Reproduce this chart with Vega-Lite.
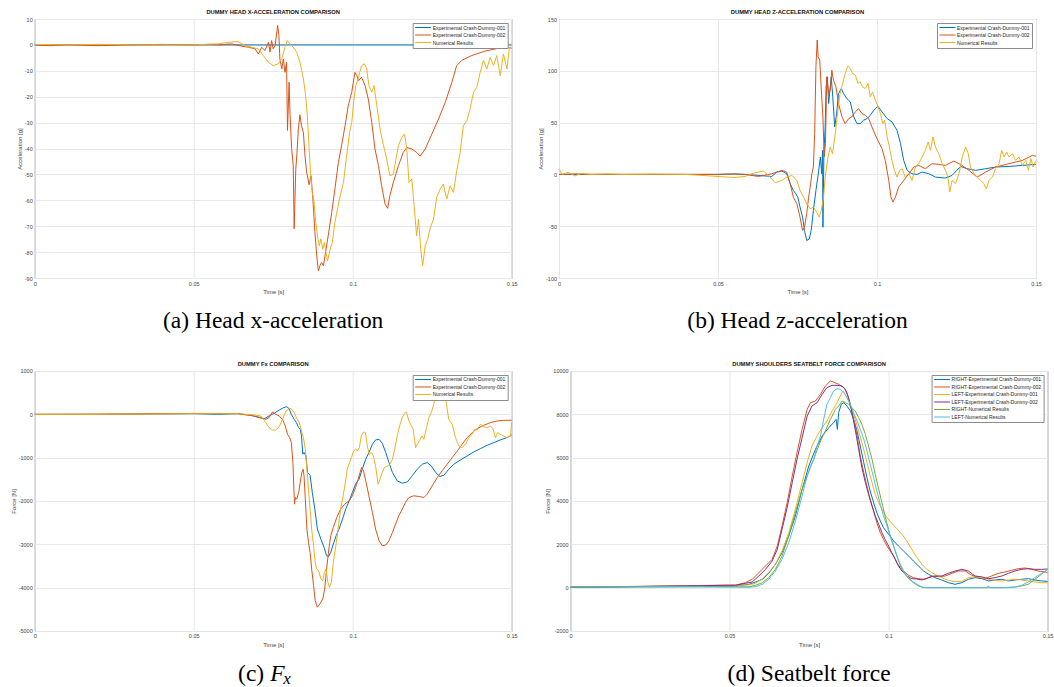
{
  "$schema": "https://vega.github.io/schema/vega-lite/v6.json",
  "padding": {"left": 8.7, "top": 8, "right": 0, "bottom": 0},
  "background": "white",
  "config": {
    "font": "Liberation Sans",
    "view": {"stroke": "#8c8c8c", "strokeWidth": 1},
    "line": {"strokeWidth": 1, "clip": true},
    "title": {"fontSize": 5.8, "fontWeight": "bold", "color": "#111111", "offset": 2},
    "axis": {
      "labelFontSize": 5.5, "labelColor": "#444444", "titleFontSize": 6, "titleFontWeight": "normal",
      "titleColor": "#444444", "ticks": false, "domain": false, "gridColor": "#e8e8e8", "gridWidth": 1,
      "labelPadding": 3, "labelFlush": false, "labelOverlap": false, "labelExpr": "'' + datum.value"
    },
    "axisX": {"titlePadding": 2},
    "axisY": {"titlePadding": 2, "labelPadding": 2.5},
    "legend": {
      "labelFontSize": 5, "labelColor": "#262626", "labelLimit": 300,
      "symbolType": "M-1,0H7", "symbolSize": 16, "symbolStrokeWidth": 1.5, "labelOffset": 13,
      "padding": 2, "rowPadding": 1.5, "strokeColor": "#8c8c8c", "fillColor": "#ffffff"
    }
  },
  "datasets": {
    "a1": [{"t":0,"v":0},{"t":0.03,"v":0},{"t":0.06,"v":0},{"t":0.09,"v":0},{"t":0.12,"v":0},{"t":0.15,"v":0}],
    "a2": [{"t":0,"v":0},{"t":0.005,"v":-0.3},{"t":0.01,"v":0},{"t":0.02,"v":-0.3},{"t":0.03,"v":0},{"t":0.04,"v":0.2},{"t":0.05,"v":0},{"t":0.055,"v":0.2},
      {"t":0.0577,"v":0},{"t":0.0619,"v":0.4},{"t":0.0651,"v":-0.5},{"t":0.0672,"v":-0.9},{"t":0.0693,"v":-1.5},{"t":0.0703,"v":-3.5},{"t":0.0714,"v":-0.9},{"t":0.0724,"v":-2.2},{"t":0.0735,"v":1},{"t":0.074,"v":-2.8},{"t":0.0745,"v":1.7},{"t":0.075,"v":-1.5},{"t":0.0756,"v":-0.3},{"t":0.0764,"v":7.5},{"t":0.0768,"v":3.6},{"t":0.0771,"v":-5.4},{"t":0.0777,"v":-9.3},{"t":0.0782,"v":-5.4},{"t":0.0787,"v":-10.6},{"t":0.0792,"v":-6.7},{"t":0.0795,"v":-33},{"t":0.08,"v":-14.4},{"t":0.0803,"v":-27},{"t":0.0808,"v":-40},{"t":0.0813,"v":-46.6},{"t":0.0816,"v":-71},{"t":0.0821,"v":-48},{"t":0.0825,"v":-41.5},{"t":0.0829,"v":-32.5},{"t":0.0834,"v":-27},{"t":0.0839,"v":-31.2},{"t":0.0845,"v":-34},{"t":0.085,"v":-42.8},{"t":0.0855,"v":-49},{"t":0.0863,"v":-54},{"t":0.0869,"v":-50.5},{"t":0.0874,"v":-58},{"t":0.0881,"v":-72},{"t":0.0887,"v":-81.4},{"t":0.0892,"v":-87.2},{"t":0.0897,"v":-85.3},{"t":0.0902,"v":-84},{"t":0.0908,"v":-85.3},{"t":0.0913,"v":-81.4},{"t":0.0923,"v":-73.7},{"t":0.0934,"v":-64.7},{"t":0.0944,"v":-55.7},{"t":0.0955,"v":-45.4},{"t":0.0965,"v":-38.9},{"t":0.0976,"v":-31.2},{"t":0.0986,"v":-23.5},{"t":0.0997,"v":-18.3},{"t":0.1002,"v":-14.4},{"t":0.1007,"v":-10.6},{"t":0.1013,"v":-11.9},{"t":0.1018,"v":-13.8},{"t":0.1028,"v":-12.5},{"t":0.1039,"v":-15.7},{"t":0.1049,"v":-20.9},{"t":0.106,"v":-29.9},{"t":0.107,"v":-40.2},{"t":0.1081,"v":-46.6},{"t":0.1091,"v":-54.4},{"t":0.1102,"v":-61.5},{"t":0.111,"v":-63.1},{"t":0.1117,"v":-58.2},{"t":0.1128,"v":-53},{"t":0.1144,"v":-46.6},{"t":0.1159,"v":-41.5},{"t":0.117,"v":-39.6},{"t":0.1186,"v":-40.2},{"t":0.1201,"v":-41.5},{"t":0.1212,"v":-43},{"t":0.1228,"v":-40.2},{"t":0.1249,"v":-34.4},{"t":0.127,"v":-28.6},{"t":0.1291,"v":-22.2},{"t":0.1312,"v":-14.4},{"t":0.1327,"v":-8},{"t":0.1343,"v":-6},{"t":0.1374,"v":-4.1},{"t":0.1416,"v":-2.4},{"t":0.1458,"v":-1.3},{"t":0.149,"v":-0.9},{"t":0.15,"v":-1.3}],
    "a3": [{"t":0,"v":0.2},{"t":0.01,"v":0},{"t":0.02,"v":0.2},{"t":0.03,"v":0},{"t":0.04,"v":0},{"t":0.05,"v":0},{"t":0.055,"v":0.3},
      {"t":0.0577,"v":0.4},{"t":0.0609,"v":1},{"t":0.064,"v":1.3},{"t":0.0661,"v":-0.3},{"t":0.0682,"v":-0.9},{"t":0.0703,"v":-1.5},{"t":0.0719,"v":-4.1},{"t":0.0735,"v":-6.7},{"t":0.075,"v":-8},{"t":0.0766,"v":-7.3},{"t":0.0777,"v":-5.4},{"t":0.0787,"v":-0.9},{"t":0.0794,"v":1.7},{"t":0.0803,"v":0.4},{"t":0.0813,"v":-0.9},{"t":0.0824,"v":-2.8},{"t":0.0834,"v":-6.7},{"t":0.0845,"v":-13.1},{"t":0.0852,"v":-19.6},{"t":0.0858,"v":-28.6},{"t":0.0863,"v":-40.2},{"t":0.0868,"v":-50.5},{"t":0.0873,"v":-57},{"t":0.0878,"v":-60.2},{"t":0.0884,"v":-68.6},{"t":0.089,"v":-74.4},{"t":0.0895,"v":-77.6},{"t":0.09,"v":-74.9},{"t":0.0906,"v":-78.9},{"t":0.0911,"v":-76.3},{"t":0.0916,"v":-80.2},{"t":0.0921,"v":-83.4},{"t":0.0929,"v":-78.9},{"t":0.0936,"v":-76.3},{"t":0.0944,"v":-68.6},{"t":0.0953,"v":-62.8},{"t":0.0961,"v":-58.2},{"t":0.0971,"v":-53.1},{"t":0.0981,"v":-42.8},{"t":0.099,"v":-33.8},{"t":0.0997,"v":-29.9},{"t":0.1004,"v":-20.9},{"t":0.101,"v":-15.7},{"t":0.1018,"v":-12.5},{"t":0.1028,"v":-8},{"t":0.1037,"v":-7.3},{"t":0.1044,"v":-9.3},{"t":0.1051,"v":-15.7},{"t":0.106,"v":-18.3},{"t":0.1067,"v":-15.7},{"t":0.1076,"v":-23.5},{"t":0.1086,"v":-32.5},{"t":0.1097,"v":-38.9},{"t":0.1107,"v":-44.1},{"t":0.1117,"v":-50.5},{"t":0.1128,"v":-49.9},{"t":0.1136,"v":-44.1},{"t":0.1144,"v":-38.9},{"t":0.1154,"v":-35.7},{"t":0.1163,"v":-34.4},{"t":0.117,"v":-40.2},{"t":0.1177,"v":-53.1},{"t":0.1186,"v":-51.8},{"t":0.1194,"v":-63.4},{"t":0.1201,"v":-73.7},{"t":0.1207,"v":-67.3},{"t":0.1214,"v":-78.9},{"t":0.122,"v":-85.3},{"t":0.1228,"v":-77.6},{"t":0.1236,"v":-75},{"t":0.1243,"v":-71.1},{"t":0.1254,"v":-67.3},{"t":0.1264,"v":-58.9},{"t":0.1275,"v":-55.7},{"t":0.1285,"v":-53.7},{"t":0.1296,"v":-59.5},{"t":0.1306,"v":-54.4},{"t":0.1317,"v":-57},{"t":0.1327,"v":-48.6},{"t":0.1338,"v":-41.5},{"t":0.1348,"v":-31.2},{"t":0.1359,"v":-29.3},{"t":0.1369,"v":-24.7},{"t":0.138,"v":-18.3},{"t":0.139,"v":-16.4},{"t":0.1401,"v":-10.6},{"t":0.1411,"v":-6},{"t":0.1422,"v":-9.3},{"t":0.1432,"v":-4.8},{"t":0.1443,"v":-8},{"t":0.1453,"v":-4.1},{"t":0.1464,"v":-11.9},{"t":0.1474,"v":-3.5},{"t":0.1485,"v":-9.3},{"t":0.1493,"v":-0.9},{"t":0.15,"v":-1.5}],
    "b1": [{"t":0,"v":0},{"t":0.01,"v":0},{"t":0.02,"v":0},{"t":0.03,"v":0},{"t":0.04,"v":0},{"t":0.05,"v":0},{"t":0.055,"v":0.5},
      {"t":0.0585,"v":0},{"t":0.0627,"v":-1},{"t":0.0669,"v":-2},{"t":0.0685,"v":2.3},{"t":0.0701,"v":3.2},{"t":0.0716,"v":0.6},{"t":0.0727,"v":-9},{"t":0.0737,"v":-15.5},{"t":0.0745,"v":-18.7},{"t":0.0751,"v":-22},{"t":0.0758,"v":-31.6},{"t":0.0766,"v":-41.3},{"t":0.0772,"v":-54.2},{"t":0.0779,"v":-63.9},{"t":0.0787,"v":-62.3},{"t":0.0793,"v":-54.2},{"t":0.08,"v":-34.8},{"t":0.0808,"v":-15.5},{"t":0.0814,"v":-2.6},{"t":0.0818,"v":7},{"t":0.0822,"v":16.8},{"t":0.0826,"v":0.6},{"t":0.0829,"v":23.2},{"t":0.083,"v":-51},{"t":0.0833,"v":20},{"t":0.0837,"v":45.8},{"t":0.084,"v":84.5},{"t":0.0844,"v":94.2},{"t":0.0848,"v":68.4},{"t":0.0852,"v":81.3},{"t":0.0856,"v":94.2},{"t":0.0861,"v":74.8},{"t":0.0867,"v":45.8},{"t":0.0873,"v":58.7},{"t":0.0879,"v":78},{"t":0.0888,"v":82.9},{"t":0.0895,"v":78},{"t":0.0905,"v":73.2},{"t":0.0916,"v":70},{"t":0.0927,"v":55.5},{"t":0.0937,"v":49},{"t":0.0947,"v":49},{"t":0.0958,"v":52.3},{"t":0.0969,"v":53.9},{"t":0.0979,"v":57.1},{"t":0.099,"v":61.9},{"t":0.1003,"v":65.8},{"t":0.1016,"v":60.3},{"t":0.1032,"v":53.9},{"t":0.1047,"v":50.6},{"t":0.1063,"v":42.6},{"t":0.1074,"v":29.7},{"t":0.1084,"v":13.5},{"t":0.1095,"v":3.9},{"t":0.111,"v":0.6},{"t":0.1126,"v":0},{"t":0.1142,"v":2.3},{"t":0.1163,"v":0.6},{"t":0.1184,"v":-2.6},{"t":0.1215,"v":-3.5},{"t":0.1236,"v":-1},{"t":0.1263,"v":7.7},{"t":0.1284,"v":5.5},{"t":0.131,"v":3.9},{"t":0.1342,"v":5.5},{"t":0.1373,"v":7.1},{"t":0.1415,"v":7.7},{"t":0.1457,"v":8.7},{"t":0.15,"v":9.7}],
    "b2": [{"t":0,"v":0},{"t":0.005,"v":0.5},{"t":0.01,"v":0},{"t":0.02,"v":0},{"t":0.03,"v":0},{"t":0.04,"v":0},{"t":0.05,"v":0},{"t":0.055,"v":0.3},
      {"t":0.0585,"v":0},{"t":0.0627,"v":-2},{"t":0.0669,"v":0.6},{"t":0.0701,"v":3.9},{"t":0.0716,"v":2.3},{"t":0.0727,"v":-9},{"t":0.0737,"v":-22},{"t":0.0748,"v":-28.4},{"t":0.0758,"v":-41.3},{"t":0.0766,"v":-54.2},{"t":0.0772,"v":-51},{"t":0.0779,"v":-38},{"t":0.0785,"v":-22},{"t":0.079,"v":-12.3},{"t":0.0795,"v":0.6},{"t":0.08,"v":7},{"t":0.0804,"v":39.4},{"t":0.0808,"v":103.9},{"t":0.0812,"v":129.7},{"t":0.0815,"v":113.5},{"t":0.082,"v":110.3},{"t":0.0825,"v":81.3},{"t":0.083,"v":55.5},{"t":0.0834,"v":16.8},{"t":0.0838,"v":29.7},{"t":0.0842,"v":94.2},{"t":0.0848,"v":78},{"t":0.0853,"v":81.3},{"t":0.0858,"v":100.6},{"t":0.0863,"v":91},{"t":0.0871,"v":84.5},{"t":0.0879,"v":68.4},{"t":0.089,"v":55.5},{"t":0.09,"v":49},{"t":0.0911,"v":53.9},{"t":0.0921,"v":55.5},{"t":0.0932,"v":60.3},{"t":0.0942,"v":63.5},{"t":0.0953,"v":58.7},{"t":0.0963,"v":57.1},{"t":0.0974,"v":53.9},{"t":0.0984,"v":45.8},{"t":0.1,"v":34.5},{"t":0.1016,"v":24.8},{"t":0.1026,"v":13.5},{"t":0.1037,"v":-5.8},{"t":0.1044,"v":-22},{"t":0.105,"v":-26.8},{"t":0.1058,"v":-22},{"t":0.1068,"v":-12.3},{"t":0.1084,"v":-5.8},{"t":0.11,"v":0.6},{"t":0.1116,"v":7.1},{"t":0.1131,"v":8.7},{"t":0.1152,"v":5.5},{"t":0.1173,"v":10.3},{"t":0.1194,"v":9.7},{"t":0.1215,"v":8.7},{"t":0.1242,"v":12.9},{"t":0.1268,"v":8.7},{"t":0.1289,"v":3.9},{"t":0.1315,"v":-2.6},{"t":0.1342,"v":2.3},{"t":0.1373,"v":7.1},{"t":0.1415,"v":10.3},{"t":0.1457,"v":13.5},{"t":0.1489,"v":18.4},{"t":0.15,"v":17.5}],
    "b3": [{"t":0,"v":5},{"t":0.001,"v":0},{"t":0.003,"v":2},{"t":0.005,"v":-1.5},{"t":0.007,"v":1},{"t":0.01,"v":0},{"t":0.015,"v":0.5},{"t":0.02,"v":0},{"t":0.03,"v":0.3},{"t":0.04,"v":0},{"t":0.045,"v":-1},{"t":0.05,"v":-2},{"t":0.055,"v":-3},
      {"t":0.0585,"v":-2},{"t":0.0606,"v":0.6},{"t":0.0627,"v":2.3},{"t":0.0643,"v":3.2},{"t":0.0659,"v":-1},{"t":0.068,"v":-8},{"t":0.0701,"v":-5.8},{"t":0.0716,"v":-2.6},{"t":0.0732,"v":-1},{"t":0.0748,"v":-5.8},{"t":0.0758,"v":-15.5},{"t":0.0769,"v":-22},{"t":0.0779,"v":-28.4},{"t":0.079,"v":-33.2},{"t":0.08,"v":-31.6},{"t":0.0811,"v":-36.5},{"t":0.0818,"v":-41.3},{"t":0.0825,"v":-34.8},{"t":0.0832,"v":-22},{"t":0.0837,"v":-2.6},{"t":0.0846,"v":16.8},{"t":0.0853,"v":26.5},{"t":0.086,"v":20},{"t":0.0869,"v":39.4},{"t":0.0877,"v":62},{"t":0.0884,"v":78},{"t":0.0892,"v":87.7},{"t":0.09,"v":97.4},{"t":0.0908,"v":104.5},{"t":0.0916,"v":102.3},{"t":0.0923,"v":97.4},{"t":0.0932,"v":95.8},{"t":0.094,"v":87.7},{"t":0.0947,"v":89.4},{"t":0.0955,"v":84.5},{"t":0.0963,"v":82.9},{"t":0.0972,"v":87.7},{"t":0.0979,"v":74.8},{"t":0.0986,"v":79.7},{"t":0.0995,"v":71.6},{"t":0.1003,"v":65.2},{"t":0.1011,"v":58.7},{"t":0.1018,"v":49},{"t":0.1024,"v":52.3},{"t":0.1032,"v":36.1},{"t":0.1039,"v":26.5},{"t":0.1047,"v":13.5},{"t":0.1055,"v":3.9},{"t":0.1063,"v":-2.6},{"t":0.1071,"v":3.9},{"t":0.1079,"v":5.5},{"t":0.1089,"v":-2.6},{"t":0.11,"v":1},{"t":0.111,"v":-5.8},{"t":0.1121,"v":7.1},{"t":0.1131,"v":10.3},{"t":0.1142,"v":16.8},{"t":0.1152,"v":23.2},{"t":0.1161,"v":31.3},{"t":0.1168,"v":23.2},{"t":0.1176,"v":36.1},{"t":0.1184,"v":26.5},{"t":0.1194,"v":20},{"t":0.1205,"v":10.3},{"t":0.1215,"v":3.9},{"t":0.1223,"v":-2.6},{"t":0.1229,"v":-17.1},{"t":0.1236,"v":-5.8},{"t":0.1247,"v":-9},{"t":0.1258,"v":1},{"t":0.1268,"v":16.8},{"t":0.1279,"v":26.5},{"t":0.1287,"v":20},{"t":0.1294,"v":7.1},{"t":0.1305,"v":1},{"t":0.1315,"v":-2.6},{"t":0.1326,"v":-5.8},{"t":0.1336,"v":-9},{"t":0.1344,"v":-13.9},{"t":0.1352,"v":-5.8},{"t":0.1363,"v":-2.6},{"t":0.1373,"v":5.5},{"t":0.1384,"v":10.3},{"t":0.1392,"v":23.2},{"t":0.14,"v":16.8},{"t":0.1408,"v":21.6},{"t":0.1415,"v":16.8},{"t":0.1426,"v":20},{"t":0.1436,"v":13.5},{"t":0.1447,"v":16.8},{"t":0.1457,"v":8.7},{"t":0.1468,"v":13.5},{"t":0.1476,"v":3.9},{"t":0.1484,"v":15.2},{"t":0.1491,"v":7.1},{"t":0.15,"v":13.5}],
    "c1": [{"t":0,"v":0},{"t":0.02,"v":0},{"t":0.04,"v":10},{"t":0.05,"v":15},
      {"t":0.0575,"v":0},{"t":0.0638,"v":15},{"t":0.068,"v":-20},{"t":0.0706,"v":-77},{"t":0.0722,"v":-100},{"t":0.0737,"v":-38},{"t":0.0753,"v":23},{"t":0.0769,"v":100},{"t":0.0782,"v":153},{"t":0.0793,"v":176},{"t":0.08,"v":130},{"t":0.0807,"v":0},{"t":0.0816,"v":-115},{"t":0.0823,"v":-192},{"t":0.083,"v":-307},{"t":0.0835,"v":-345},{"t":0.0839,"v":-499},{"t":0.0843,"v":-921},{"t":0.0847,"v":-880},{"t":0.0853,"v":-959},{"t":0.0858,"v":-1343},{"t":0.0866,"v":-1405},{"t":0.0873,"v":-1804},{"t":0.0881,"v":-2187},{"t":0.0889,"v":-2648},{"t":0.09,"v":-2878},{"t":0.091,"v":-3070},{"t":0.0918,"v":-3262},{"t":0.0924,"v":-3285},{"t":0.0931,"v":-3185},{"t":0.0939,"v":-2993},{"t":0.0948,"v":-2801},{"t":0.0957,"v":-2648},{"t":0.0968,"v":-2418},{"t":0.0978,"v":-2187},{"t":0.0989,"v":-1996},{"t":0.0999,"v":-1804},{"t":0.1009,"v":-1612},{"t":0.102,"v":-1497},{"t":0.103,"v":-1266},{"t":0.1041,"v":-1036},{"t":0.1051,"v":-883},{"t":0.1062,"v":-691},{"t":0.1072,"v":-591},{"t":0.1083,"v":-576},{"t":0.1093,"v":-668},{"t":0.1104,"v":-883},{"t":0.1114,"v":-1113},{"t":0.1125,"v":-1343},{"t":0.114,"v":-1535},{"t":0.1156,"v":-1589},{"t":0.1172,"v":-1558},{"t":0.1187,"v":-1420},{"t":0.1203,"v":-1266},{"t":0.1219,"v":-1151},{"t":0.1234,"v":-1113},{"t":0.1247,"v":-1190},{"t":0.1261,"v":-1343},{"t":0.1274,"v":-1435},{"t":0.1287,"v":-1405},{"t":0.1302,"v":-1266},{"t":0.1318,"v":-1151},{"t":0.1339,"v":-1051},{"t":0.136,"v":-959},{"t":0.1381,"v":-867},{"t":0.1402,"v":-791},{"t":0.1423,"v":-714},{"t":0.1444,"v":-652},{"t":0.1464,"v":-591},{"t":0.1485,"v":-537},{"t":0.15,"v":-480}],
    "c2": [{"t":0,"v":0},{"t":0.02,"v":5},{"t":0.04,"v":15},{"t":0.05,"v":20},
      {"t":0.0575,"v":20},{"t":0.0638,"v":15},{"t":0.069,"v":-38},{"t":0.0711,"v":-77},{"t":0.0727,"v":-115},{"t":0.0737,"v":-77},{"t":0.0748,"v":54},{"t":0.0758,"v":0},{"t":0.0769,"v":-38},{"t":0.0779,"v":-115},{"t":0.0788,"v":-269},{"t":0.0795,"v":-461},{"t":0.0802,"v":-537},{"t":0.0807,"v":-652},{"t":0.0812,"v":-1113},{"t":0.0815,"v":-1727},{"t":0.0817,"v":-2072},{"t":0.082,"v":-1919},{"t":0.0824,"v":-1957},{"t":0.083,"v":-1804},{"t":0.0835,"v":-1573},{"t":0.084,"v":-1343},{"t":0.0844,"v":-1266},{"t":0.0847,"v":-1420},{"t":0.0851,"v":-1957},{"t":0.0856,"v":-2648},{"t":0.0861,"v":-2955},{"t":0.0866,"v":-3185},{"t":0.0871,"v":-3569},{"t":0.0877,"v":-3953},{"t":0.0882,"v":-4298},{"t":0.0889,"v":-4452},{"t":0.0897,"v":-4375},{"t":0.0906,"v":-4260},{"t":0.0912,"v":-4030},{"t":0.0918,"v":-3569},{"t":0.0925,"v":-3108},{"t":0.0931,"v":-2801},{"t":0.0939,"v":-2610},{"t":0.095,"v":-2379},{"t":0.0962,"v":-2187},{"t":0.0975,"v":-2072},{"t":0.0989,"v":-1996},{"t":0.0999,"v":-1880},{"t":0.1009,"v":-1689},{"t":0.1017,"v":-1497},{"t":0.1023,"v":-1343},{"t":0.1028,"v":-1228},{"t":0.1034,"v":-1305},{"t":0.1041,"v":-1535},{"t":0.1051,"v":-1880},{"t":0.1062,"v":-2264},{"t":0.1072,"v":-2648},{"t":0.1083,"v":-2917},{"t":0.1093,"v":-3031},{"t":0.1104,"v":-3016},{"t":0.1114,"v":-2917},{"t":0.1125,"v":-2725},{"t":0.1135,"v":-2533},{"t":0.1145,"v":-2341},{"t":0.1156,"v":-2187},{"t":0.1166,"v":-2033},{"t":0.1177,"v":-1919},{"t":0.1192,"v":-1880},{"t":0.1208,"v":-1896},{"t":0.1224,"v":-1919},{"t":0.1234,"v":-1842},{"t":0.125,"v":-1650},{"t":0.1266,"v":-1459},{"t":0.1281,"v":-1305},{"t":0.1297,"v":-1151},{"t":0.1313,"v":-998},{"t":0.1329,"v":-844},{"t":0.1344,"v":-691},{"t":0.136,"v":-537},{"t":0.1376,"v":-422},{"t":0.1391,"v":-330},{"t":0.1412,"v":-253},{"t":0.1433,"v":-192},{"t":0.1454,"v":-154},{"t":0.1475,"v":-138},{"t":0.15,"v":-138}],
    "c3": [{"t":0,"v":0},{"t":0.02,"v":0},{"t":0.04,"v":10},{"t":0.05,"v":15},
      {"t":0.0575,"v":15},{"t":0.0638,"v":15},{"t":0.069,"v":-15},{"t":0.0711,"v":-38},{"t":0.0727,"v":-192},{"t":0.0737,"v":-307},{"t":0.0748,"v":-361},{"t":0.0758,"v":-361},{"t":0.0769,"v":-284},{"t":0.0779,"v":-115},{"t":0.079,"v":77},{"t":0.08,"v":130},{"t":0.0807,"v":130},{"t":0.0816,"v":38},{"t":0.0823,"v":-77},{"t":0.0832,"v":-192},{"t":0.0839,"v":-384},{"t":0.0845,"v":-537},{"t":0.0851,"v":-806},{"t":0.0856,"v":-1266},{"t":0.0861,"v":-1727},{"t":0.0866,"v":-2187},{"t":0.0871,"v":-2648},{"t":0.0877,"v":-3031},{"t":0.0882,"v":-3415},{"t":0.0887,"v":-3569},{"t":0.0893,"v":-3607},{"t":0.09,"v":-3800},{"t":0.0906,"v":-3838},{"t":0.0911,"v":-3646},{"t":0.0916,"v":-3569},{"t":0.0922,"v":-3876},{"t":0.0927,"v":-3991},{"t":0.0933,"v":-3876},{"t":0.0939,"v":-3415},{"t":0.0947,"v":-3031},{"t":0.0954,"v":-2648},{"t":0.0962,"v":-2187},{"t":0.097,"v":-1880},{"t":0.0977,"v":-1573},{"t":0.0983,"v":-1266},{"t":0.099,"v":-1113},{"t":0.0996,"v":-998},{"t":0.1002,"v":-867},{"t":0.1008,"v":-806},{"t":0.1015,"v":-844},{"t":0.1021,"v":-768},{"t":0.1027,"v":-499},{"t":0.1034,"v":-407},{"t":0.104,"v":-422},{"t":0.1046,"v":-729},{"t":0.1052,"v":-921},{"t":0.1059,"v":-883},{"t":0.1065,"v":-959},{"t":0.1072,"v":-1190},{"t":0.108,"v":-1612},{"t":0.1086,"v":-1497},{"t":0.1093,"v":-1343},{"t":0.11,"v":-1228},{"t":0.1109,"v":-1190},{"t":0.1117,"v":-1151},{"t":0.1125,"v":-1036},{"t":0.1132,"v":-806},{"t":0.114,"v":-499},{"t":0.1149,"v":-230},{"t":0.1156,"v":-77},{"t":0.1163,"v":23},{"t":0.1169,"v":54},{"t":0.1177,"v":-154},{"t":0.1184,"v":-253},{"t":0.119,"v":-345},{"t":0.1198,"v":-768},{"t":0.1203,"v":-691},{"t":0.121,"v":-614},{"t":0.1218,"v":-499},{"t":0.1224,"v":-576},{"t":0.1232,"v":-307},{"t":0.124,"v":-77},{"t":0.1247,"v":38},{"t":0.1255,"v":230},{"t":0.1264,"v":576},{"t":0.1271,"v":637},{"t":0.1278,"v":499},{"t":0.1287,"v":560},{"t":0.1295,"v":230},{"t":0.1302,"v":-115},{"t":0.1313,"v":-230},{"t":0.1323,"v":-537},{"t":0.1334,"v":-729},{"t":0.1344,"v":-768},{"t":0.1355,"v":-691},{"t":0.1365,"v":-537},{"t":0.1376,"v":-461},{"t":0.1383,"v":-345},{"t":0.1391,"v":-361},{"t":0.1402,"v":-230},{"t":0.1412,"v":-284},{"t":0.1423,"v":-307},{"t":0.1433,"v":-269},{"t":0.1441,"v":-330},{"t":0.1449,"v":-537},{"t":0.1456,"v":-422},{"t":0.1464,"v":-461},{"t":0.1475,"v":-499},{"t":0.1485,"v":-537},{"t":0.1496,"v":-499},{"t":0.15,"v":-180}],
    "d1": [{"t":0,"v":30},{"t":0.02,"v":40},{"t":0.04,"v":50},{"t":0.05,"v":60},
      {"t":0.0519,"v":77},{"t":0.0561,"v":154},{"t":0.0582,"v":262},{"t":0.0603,"v":385},{"t":0.0623,"v":662},{"t":0.0644,"v":1077},{"t":0.0665,"v":1615},{"t":0.0686,"v":2385},{"t":0.0707,"v":3308},{"t":0.0728,"v":4538},{"t":0.0749,"v":5615},{"t":0.077,"v":6385},{"t":0.0791,"v":7000},{"t":0.0812,"v":7385},{"t":0.0827,"v":7615},{"t":0.0835,"v":7769},{"t":0.0839,"v":7308},{"t":0.0843,"v":8077},{"t":0.0851,"v":8462},{"t":0.0859,"v":8538},{"t":0.0869,"v":8385},{"t":0.088,"v":8154},{"t":0.089,"v":7769},{"t":0.0901,"v":7231},{"t":0.0911,"v":6538},{"t":0.0922,"v":5769},{"t":0.0932,"v":5077},{"t":0.0942,"v":4462},{"t":0.0953,"v":3923},{"t":0.0963,"v":3462},{"t":0.0974,"v":3077},{"t":0.0984,"v":2769},{"t":0.1,"v":2462},{"t":0.1016,"v":2154},{"t":0.1031,"v":1923},{"t":0.1047,"v":1692},{"t":0.1063,"v":1462},{"t":0.1078,"v":1231},{"t":0.1094,"v":1000},{"t":0.111,"v":769},{"t":0.1126,"v":615},{"t":0.1146,"v":462},{"t":0.1167,"v":354},{"t":0.1188,"v":231},{"t":0.1209,"v":154},{"t":0.123,"v":231},{"t":0.1251,"v":385},{"t":0.1272,"v":462},{"t":0.1293,"v":415},{"t":0.1314,"v":308},{"t":0.1335,"v":354},{"t":0.1356,"v":385},{"t":0.1377,"v":308},{"t":0.1397,"v":354},{"t":0.1418,"v":385},{"t":0.1439,"v":415},{"t":0.146,"v":354},{"t":0.1481,"v":308},{"t":0.15,"v":292}],
    "d2": [{"t":0,"v":20},{"t":0.02,"v":60},{"t":0.04,"v":100},{"t":0.05,"v":120},
      {"t":0.0519,"v":120},{"t":0.055,"v":231},{"t":0.0571,"v":385},{"t":0.0592,"v":692},{"t":0.0613,"v":1000},{"t":0.0634,"v":1308},{"t":0.065,"v":1923},{"t":0.0665,"v":2846},{"t":0.0681,"v":3923},{"t":0.0697,"v":5154},{"t":0.0712,"v":6231},{"t":0.0728,"v":7308},{"t":0.0744,"v":8231},{"t":0.0754,"v":8538},{"t":0.077,"v":8615},{"t":0.0786,"v":8923},{"t":0.0801,"v":9308},{"t":0.0817,"v":9538},{"t":0.0827,"v":9490},{"t":0.0843,"v":9385},{"t":0.0859,"v":9231},{"t":0.0869,"v":9000},{"t":0.088,"v":8462},{"t":0.089,"v":7769},{"t":0.0901,"v":7000},{"t":0.0911,"v":6077},{"t":0.0922,"v":5308},{"t":0.0932,"v":4692},{"t":0.0942,"v":4077},{"t":0.0953,"v":3538},{"t":0.0963,"v":3000},{"t":0.0974,"v":2538},{"t":0.0984,"v":2231},{"t":0.0995,"v":1923},{"t":0.1005,"v":1692},{"t":0.1016,"v":1462},{"t":0.1026,"v":1154},{"t":0.1037,"v":923},{"t":0.1047,"v":769},{"t":0.1063,"v":569},{"t":0.1078,"v":462},{"t":0.1094,"v":415},{"t":0.1115,"v":385},{"t":0.1136,"v":538},{"t":0.1157,"v":508},{"t":0.1178,"v":538},{"t":0.1199,"v":662},{"t":0.122,"v":769},{"t":0.1241,"v":769},{"t":0.1262,"v":569},{"t":0.1282,"v":462},{"t":0.1303,"v":415},{"t":0.1324,"v":538},{"t":0.1345,"v":662},{"t":0.1366,"v":723},{"t":0.1387,"v":800},{"t":0.1408,"v":877},{"t":0.1429,"v":908},{"t":0.145,"v":846},{"t":0.1471,"v":769},{"t":0.1492,"v":723},{"t":0.15,"v":700}],
    "d3": [{"t":0,"v":20},{"t":0.02,"v":50},{"t":0.04,"v":80},{"t":0.05,"v":100},
      {"t":0.0519,"v":100},{"t":0.0561,"v":130},{"t":0.0582,"v":200},{"t":0.0603,"v":415},{"t":0.0623,"v":692},{"t":0.0644,"v":1077},{"t":0.0665,"v":1692},{"t":0.0686,"v":2538},{"t":0.0707,"v":3615},{"t":0.0728,"v":4846},{"t":0.0744,"v":5769},{"t":0.0759,"v":6538},{"t":0.0775,"v":7000},{"t":0.0791,"v":7385},{"t":0.0806,"v":7692},{"t":0.0822,"v":8154},{"t":0.0838,"v":8538},{"t":0.0848,"v":8846},{"t":0.0856,"v":9077},{"t":0.0864,"v":8923},{"t":0.0874,"v":8615},{"t":0.0885,"v":8231},{"t":0.0895,"v":7769},{"t":0.0906,"v":7231},{"t":0.0916,"v":6692},{"t":0.0927,"v":6077},{"t":0.0937,"v":5462},{"t":0.0948,"v":4846},{"t":0.0958,"v":4308},{"t":0.0969,"v":3923},{"t":0.0979,"v":3615},{"t":0.0995,"v":3231},{"t":0.101,"v":2969},{"t":0.1026,"v":2723},{"t":0.1042,"v":2462},{"t":0.1058,"v":2154},{"t":0.1073,"v":1769},{"t":0.1089,"v":1385},{"t":0.1105,"v":1077},{"t":0.112,"v":846},{"t":0.1136,"v":692},{"t":0.1152,"v":569},{"t":0.1167,"v":462},{"t":0.1188,"v":338},{"t":0.1209,"v":277},{"t":0.123,"v":292},{"t":0.1251,"v":462},{"t":0.1272,"v":508},{"t":0.1293,"v":462},{"t":0.1314,"v":385},{"t":0.1335,"v":338},{"t":0.1356,"v":308},{"t":0.1377,"v":354},{"t":0.1397,"v":385},{"t":0.1418,"v":354},{"t":0.1439,"v":308},{"t":0.146,"v":262},{"t":0.1481,"v":231},{"t":0.15,"v":231}],
    "d4": [{"t":0,"v":10},{"t":0.02,"v":50},{"t":0.04,"v":90},{"t":0.05,"v":110},
      {"t":0.0519,"v":110},{"t":0.055,"v":200},{"t":0.0571,"v":262},{"t":0.0592,"v":538},{"t":0.0613,"v":846},{"t":0.0634,"v":1231},{"t":0.065,"v":1769},{"t":0.0665,"v":2692},{"t":0.0681,"v":3692},{"t":0.0697,"v":4846},{"t":0.0712,"v":5923},{"t":0.0728,"v":6923},{"t":0.0744,"v":7923},{"t":0.0759,"v":8385},{"t":0.0775,"v":8538},{"t":0.0791,"v":8923},{"t":0.0806,"v":9231},{"t":0.0822,"v":9338},{"t":0.0838,"v":9338},{"t":0.0854,"v":9308},{"t":0.0864,"v":9154},{"t":0.0874,"v":8769},{"t":0.0885,"v":8077},{"t":0.0895,"v":7308},{"t":0.0906,"v":6385},{"t":0.0916,"v":5538},{"t":0.0927,"v":4846},{"t":0.0937,"v":4308},{"t":0.0948,"v":3769},{"t":0.0958,"v":3308},{"t":0.0969,"v":2923},{"t":0.0979,"v":2538},{"t":0.0989,"v":2231},{"t":0.1,"v":1923},{"t":0.101,"v":1615},{"t":0.1021,"v":1308},{"t":0.1031,"v":1000},{"t":0.1042,"v":769},{"t":0.1058,"v":538},{"t":0.1073,"v":415},{"t":0.1089,"v":400},{"t":0.1105,"v":354},{"t":0.1126,"v":462},{"t":0.1146,"v":538},{"t":0.1167,"v":538},{"t":0.1188,"v":662},{"t":0.1209,"v":769},{"t":0.123,"v":846},{"t":0.1251,"v":769},{"t":0.1272,"v":538},{"t":0.1293,"v":500},{"t":0.1314,"v":415},{"t":0.1335,"v":462},{"t":0.1356,"v":538},{"t":0.1377,"v":662},{"t":0.1397,"v":769},{"t":0.1418,"v":846},{"t":0.1439,"v":877},{"t":0.146,"v":846},{"t":0.1481,"v":846},{"t":0.15,"v":860}],
    "d5": [{"t":0,"v":30},{"t":0.02,"v":40},{"t":0.04,"v":50},{"t":0.05,"v":40},
      {"t":0.0519,"v":40},{"t":0.0561,"v":40},{"t":0.0582,"v":108},{"t":0.0603,"v":231},{"t":0.0623,"v":462},{"t":0.0644,"v":846},{"t":0.0665,"v":1462},{"t":0.0686,"v":2385},{"t":0.0707,"v":3462},{"t":0.0728,"v":4538},{"t":0.0744,"v":5154},{"t":0.0754,"v":5538},{"t":0.077,"v":6154},{"t":0.0786,"v":6769},{"t":0.0801,"v":7231},{"t":0.0817,"v":7769},{"t":0.0833,"v":8231},{"t":0.0843,"v":8385},{"t":0.0854,"v":8615},{"t":0.0864,"v":8538},{"t":0.0874,"v":8462},{"t":0.0885,"v":8308},{"t":0.0895,"v":8154},{"t":0.0906,"v":7846},{"t":0.0916,"v":7538},{"t":0.0927,"v":7077},{"t":0.0937,"v":6538},{"t":0.0948,"v":5923},{"t":0.0958,"v":5231},{"t":0.0969,"v":4538},{"t":0.0979,"v":3923},{"t":0.0989,"v":3308},{"t":0.1,"v":2692},{"t":0.101,"v":2154},{"t":0.1021,"v":1692},{"t":0.1031,"v":1231},{"t":0.1042,"v":846},{"t":0.1052,"v":615},{"t":0.1063,"v":415},{"t":0.1078,"v":231},{"t":0.1094,"v":77},{"t":0.111,"v":0},{"t":0.1146,"v":0},{"t":0.1251,"v":0},{"t":0.1309,"v":0},{"t":0.1314,"v":80},{"t":0.1319,"v":0},{"t":0.1377,"v":0},{"t":0.1408,"v":46},{"t":0.1439,"v":154},{"t":0.146,"v":385},{"t":0.1481,"v":615},{"t":0.15,"v":846}],
    "d6": [{"t":0,"v":30},{"t":0.03,"v":40},{"t":0.05,"v":30},
      {"t":0.0519,"v":30},{"t":0.0561,"v":20},{"t":0.0582,"v":46},{"t":0.0603,"v":154},{"t":0.0623,"v":385},{"t":0.0644,"v":769},{"t":0.0665,"v":1308},{"t":0.0686,"v":2077},{"t":0.0707,"v":3077},{"t":0.0728,"v":4231},{"t":0.0744,"v":5154},{"t":0.0754,"v":5615},{"t":0.0765,"v":5923},{"t":0.0775,"v":6538},{"t":0.0786,"v":7000},{"t":0.0796,"v":7769},{"t":0.0806,"v":8462},{"t":0.0817,"v":8769},{"t":0.0827,"v":9077},{"t":0.0838,"v":9185},{"t":0.0848,"v":9154},{"t":0.0859,"v":9000},{"t":0.0869,"v":8769},{"t":0.088,"v":8462},{"t":0.089,"v":8077},{"t":0.0901,"v":7692},{"t":0.0911,"v":7308},{"t":0.0922,"v":6846},{"t":0.0932,"v":6308},{"t":0.0942,"v":5692},{"t":0.0953,"v":5077},{"t":0.0963,"v":4462},{"t":0.0974,"v":3846},{"t":0.0984,"v":3308},{"t":0.0995,"v":2846},{"t":0.1005,"v":2385},{"t":0.1016,"v":1923},{"t":0.1026,"v":1462},{"t":0.1037,"v":1077},{"t":0.1047,"v":769},{"t":0.1058,"v":538},{"t":0.1073,"v":308},{"t":0.1089,"v":154},{"t":0.1105,"v":31},{"t":0.112,"v":0},{"t":0.1251,"v":0},{"t":0.1356,"v":0},{"t":0.1397,"v":31},{"t":0.1418,"v":108},{"t":0.1439,"v":262},{"t":0.146,"v":462},{"t":0.1481,"v":662},{"t":0.15,"v":846}]
  },
  "bounds": "full",
  "spacing": 27,
  "resolve": {"scale": {"color": "independent"}, "legend": {"color": "independent"}},
  "vconcat": [
    {
      "spacing": 18.3,
      "resolve": {"scale": {"color": "independent"}, "legend": {"color": "independent"}},
      "hconcat": [
        {
          "bounds": "flush",
          "spacing": 30.5,
          "resolve": {"scale": {"color": "independent"}, "legend": {"color": "independent"}},
          "vconcat": [
            {
              "width": 477, "height": 259,
              "title": "DUMMY HEAD X-ACCELERATION COMPARISON",
              "encoding": {
                "x": {"field": "t", "type": "quantitative", "scale": {"domain": [0, 0.15], "nice": false}, "axis": {"values": [0, 0.05, 0.1, 0.15], "title": "Time [s]"}},
                "y": {"field": "v", "type": "quantitative", "scale": {"domain": [-90, 10], "nice": false}, "axis": {"values": [-90, -80, -70, -60, -50, -40, -30, -20, -10, 0, 10], "title": "Acceleration [g]"}}
              },
              "layer": [
                {"data": {"name": "a1"}, "mark": "line", "encoding": {"color": {"datum": "Experimental Crash-Dummy-001", "type": "nominal", "scale": {"domain": ["Experimental Crash-Dummy-001", "Experimental Crash-Dummy-002", "Numerical Results"], "range": ["#0072BD", "#D95319", "#EDB120"]}, "legend": {"title": null, "orient": "top-right", "offset": 4}}}},
                {"data": {"name": "a2"}, "mark": "line", "encoding": {"color": {"datum": "Experimental Crash-Dummy-002", "type": "nominal"}}},
                {"data": {"name": "a3"}, "mark": "line", "encoding": {"color": {"datum": "Numerical Results", "type": "nominal"}}}
              ]
            },
            {
              "width": 477, "height": 24, "view": {"stroke": null},
              "data": {"values": [{"label": "(a) Head x-acceleration"}]},
              "mark": {"type": "text", "font": "Liberation Serif", "fontSize": 23.5, "color": "#000000", "baseline": "middle"},
              "encoding": {"text": {"field": "label"}}
            }
          ]
        },
        {
          "bounds": "flush",
          "spacing": 30.5,
          "resolve": {"scale": {"color": "independent"}, "legend": {"color": "independent"}},
          "vconcat": [
            {
              "width": 477, "height": 259,
              "title": "DUMMY HEAD Z-ACCELERATION COMPARISON",
              "encoding": {
                "x": {"field": "t", "type": "quantitative", "scale": {"domain": [0, 0.15], "nice": false}, "axis": {"values": [0, 0.05, 0.1, 0.15], "title": "Time [s]"}},
                "y": {"field": "v", "type": "quantitative", "scale": {"domain": [-100, 150], "nice": false}, "axis": {"values": [-100, -50, 0, 50, 100, 150], "title": "Acceleration [g]"}}
              },
              "layer": [
                {"data": {"name": "b1"}, "mark": "line", "encoding": {"color": {"datum": "Experimental Crash-Dummy-001", "type": "nominal", "scale": {"domain": ["Experimental Crash-Dummy-001", "Experimental Crash-Dummy-002", "Numerical Results"], "range": ["#0072BD", "#D95319", "#EDB120"]}, "legend": {"title": null, "orient": "top-right", "offset": 4}}}},
                {"data": {"name": "b2"}, "mark": "line", "encoding": {"color": {"datum": "Experimental Crash-Dummy-002", "type": "nominal"}}},
                {"data": {"name": "b3"}, "mark": "line", "encoding": {"color": {"datum": "Numerical Results", "type": "nominal"}}}
              ]
            },
            {
              "width": 477, "height": 24, "view": {"stroke": null},
              "data": {"values": [{"label": "(b) Head z-acceleration"}]},
              "mark": {"type": "text", "font": "Liberation Serif", "fontSize": 23.5, "color": "#000000", "baseline": "middle"},
              "encoding": {"text": {"field": "label"}}
            }
          ]
        }
      ]
    },
    {
      "spacing": 25.9,
      "resolve": {"scale": {"color": "independent"}, "legend": {"color": "independent"}},
      "hconcat": [
        {
          "bounds": "flush",
          "spacing": 31,
          "resolve": {"scale": {"color": "independent"}, "legend": {"color": "independent"}},
          "vconcat": [
            {
              "width": 477, "height": 260,
              "title": "DUMMY Fx COMPARISON",
              "encoding": {
                "x": {"field": "t", "type": "quantitative", "scale": {"domain": [0, 0.15], "nice": false}, "axis": {"values": [0, 0.05, 0.1, 0.15], "title": "Time [s]"}},
                "y": {"field": "v", "type": "quantitative", "scale": {"domain": [-5000, 1000], "nice": false}, "axis": {"values": [-5000, -4000, -3000, -2000, -1000, 0, 1000], "title": "Force [N]"}}
              },
              "layer": [
                {"data": {"name": "c1"}, "mark": "line", "encoding": {"color": {"datum": "Experimental Crash-Dummy-001", "type": "nominal", "scale": {"domain": ["Experimental Crash-Dummy-001", "Experimental Crash-Dummy-002", "Numerical Results"], "range": ["#0072BD", "#D95319", "#EDB120"]}, "legend": {"title": null, "orient": "top-right", "offset": 4}}}},
                {"data": {"name": "c2"}, "mark": "line", "encoding": {"color": {"datum": "Experimental Crash-Dummy-002", "type": "nominal"}}},
                {"data": {"name": "c3"}, "mark": "line", "encoding": {"color": {"datum": "Numerical Results", "type": "nominal"}}}
              ]
            },
            {
              "width": 477, "height": 24, "view": {"stroke": null},
              "layer": [
                {"data": {"values": [{"label": "(c)"}]}, "mark": {"type": "text", "font": "Liberation Serif", "fontSize": 23.5, "color": "#000000", "baseline": "middle", "align": "right", "dx": -9}, "encoding": {"text": {"field": "label"}}},
                {"data": {"values": [{"label": "F"}]}, "mark": {"type": "text", "font": "Liberation Serif", "fontSize": 23.5, "fontStyle": "italic", "color": "#000000", "baseline": "middle", "align": "left", "dx": -3}, "encoding": {"text": {"field": "label"}}},
                {"data": {"values": [{"label": "x"}]}, "mark": {"type": "text", "font": "Liberation Serif", "fontSize": 17, "fontStyle": "italic", "color": "#000000", "baseline": "middle", "align": "left", "dx": 10, "dy": 5}, "encoding": {"text": {"field": "label"}}}
              ]
            }
          ]
        },
        {
          "bounds": "flush",
          "spacing": 31,
          "resolve": {"scale": {"color": "independent"}, "legend": {"color": "independent"}},
          "vconcat": [
            {
              "width": 477, "height": 260,
              "title": "DUMMY SHOULDERS SEATBELT FORCE COMPARISON",
              "encoding": {
                "x": {"field": "t", "type": "quantitative", "scale": {"domain": [0, 0.15], "nice": false}, "axis": {"values": [0, 0.05, 0.1, 0.15], "title": "Time [s]"}},
                "y": {"field": "v", "type": "quantitative", "scale": {"domain": [-2000, 10000], "nice": false}, "axis": {"values": [-2000, 0, 2000, 4000, 6000, 8000, 10000], "title": "Force [N]"}}
              },
              "layer": [
                {"data": {"name": "d1"}, "mark": "line", "encoding": {"color": {"datum": "RIGHT-Experimental Crash-Dummy-001", "type": "nominal", "scale": {"domain": ["RIGHT-Experimental Crash-Dummy-001", "RIGHT-Experimental Crash-Dummy-002", "LEFT-Experimental Crash-Dummy-001", "LEFT-Experimental Crash-Dummy-002", "RIGHT-Numerical Results", "LEFT-Numerical Results"], "range": ["#0072BD", "#D95319", "#EDB120", "#7E2F8E", "#77AC30", "#4DBEEE"]}, "legend": {"title": null, "orient": "top-right", "offset": 4}}}},
                {"data": {"name": "d2"}, "mark": "line", "encoding": {"color": {"datum": "RIGHT-Experimental Crash-Dummy-002", "type": "nominal"}}},
                {"data": {"name": "d3"}, "mark": "line", "encoding": {"color": {"datum": "LEFT-Experimental Crash-Dummy-001", "type": "nominal"}}},
                {"data": {"name": "d4"}, "mark": "line", "encoding": {"color": {"datum": "LEFT-Experimental Crash-Dummy-002", "type": "nominal"}}},
                {"data": {"name": "d5"}, "mark": "line", "encoding": {"color": {"datum": "RIGHT-Numerical Results", "type": "nominal"}}},
                {"data": {"name": "d6"}, "mark": "line", "encoding": {"color": {"datum": "LEFT-Numerical Results", "type": "nominal"}}}
              ]
            },
            {
              "width": 477, "height": 24, "view": {"stroke": null},
              "data": {"values": [{"label": "(d) Seatbelt force"}]},
              "mark": {"type": "text", "font": "Liberation Serif", "fontSize": 23.5, "color": "#000000", "baseline": "middle"},
              "encoding": {"text": {"field": "label"}}
            }
          ]
        }
      ]
    }
  ]
}
